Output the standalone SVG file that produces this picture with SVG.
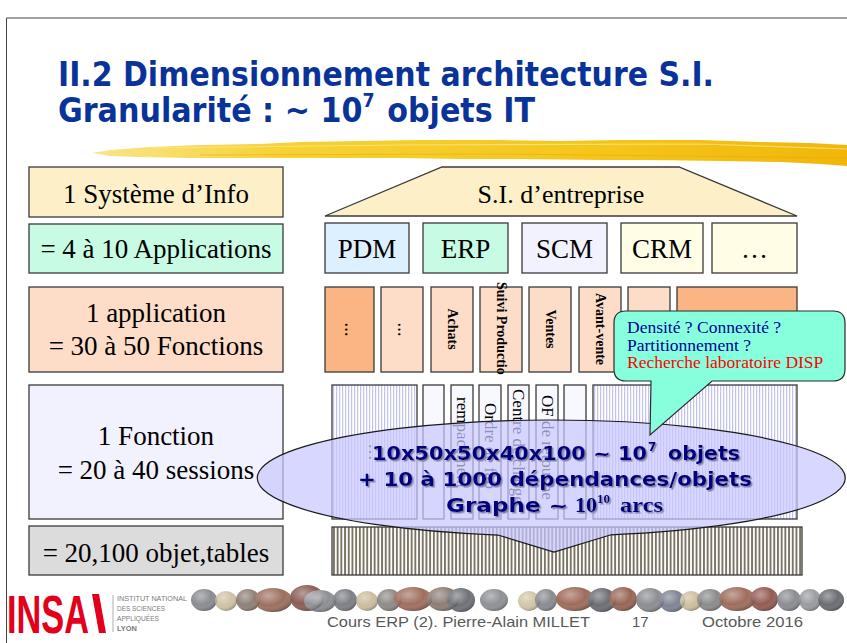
<svg xmlns="http://www.w3.org/2000/svg" width="847" height="643" viewBox="0 0 847 643">
  <style>
    .box { stroke: #3a3a3a; stroke-width: 1.3; }
    .serif { font-family: "Liberation Serif", "Times New Roman", serif; fill: #000; }
    .lbl { font-size: 27px; text-anchor: middle; }
    .vb { font-family: "Liberation Serif", "Times New Roman", serif; font-weight: bold; font-size: 14px; }
    .vs { font-family: "Liberation Serif", "Times New Roman", serif; font-size: 17px; }
    .title { font-family: "DejaVu Sans", Verdana, sans-serif; font-weight: bold; font-size: 33px; fill: #0a3399; }
    .big { font-family: "DejaVu Sans", Verdana, sans-serif; font-weight: bold; font-size: 20px; fill: #000080; }
    .tb { font-family: "Liberation Serif", "Times New Roman", serif; font-weight: bold; fill: #000080; }
    .foot { font-family: "Liberation Sans", Arial, sans-serif; font-size: 15px; fill: #595959; }
    .tiny { font-family: "Liberation Sans", Arial, sans-serif; font-size: 6.8px; fill: #7a7a7a; }
  </style>
  <defs>
    <pattern id="lav" width="3" height="10" patternUnits="userSpaceOnUse">
      <rect width="3" height="10" fill="#ffffff"/>
      <rect width="1.2" height="10" fill="#c2c2ee"/>
    </pattern>
    <pattern id="grain" width="3.7" height="10" patternUnits="userSpaceOnUse">
      <rect width="3.7" height="10" fill="#ffffff"/>
      <rect width="1.9" height="10" fill="#7b7363"/>
    </pattern>
    <linearGradient id="brush" x1="0" y1="0" x2="1" y2="0">
      <stop offset="0" stop-color="#f9e58a"/>
      <stop offset="0.25" stop-color="#f6d235"/>
      <stop offset="0.7" stop-color="#f4c51a"/>
      <stop offset="1" stop-color="#f1b60a"/>
    </linearGradient>
    <radialGradient id="shade" cx="0.38" cy="0.32" r="0.75">
      <stop offset="0" stop-color="#ffffff" stop-opacity="0.4"/>
      <stop offset="0.55" stop-color="#ffffff" stop-opacity="0"/>
      <stop offset="1" stop-color="#000000" stop-opacity="0.4"/>
    </radialGradient>
    <filter id="textShadow" x="-5%" y="-20%" width="110%" height="140%">
      <feDropShadow dx="1.5" dy="1.5" stdDeviation="0" flood-color="#8080a0" flood-opacity="1"/>
    </filter>
  </defs>

  <rect width="847" height="643" fill="#ffffff"/>
  <!-- slide frame -->
  <path d="M6.5,643 V18 H847" fill="none" stroke="#444" stroke-width="1"/>

  <!-- heading -->
  <g id="title">
    <text class="title" x="58" y="86" textLength="656" lengthAdjust="spacingAndGlyphs">II.2 Dimensionnement architecture S.I.</text>
    <text class="title" x="58" y="122" textLength="477" lengthAdjust="spacingAndGlyphs">Granularité : ~ 10<tspan dy="-15" style="font-size:19px">7</tspan><tspan dy="15" dx="14">objets IT</tspan></text>
  </g>

  <!-- yellow brush stroke -->
  <g id="brush-stroke">
    <path d="M92,153 L110,150 L150,147 L200,145 L260,144 L300,142 L360,141 L420,140 L500,140 L560,141 L620,140 L700,140 L760,142 L810,143 L847,145 L847,166 L820,164 L780,162 L720,161 L650,160 L600,160 L520,159 L460,159 L400,158 L320,158 L250,158 L190,158 L140,157 L110,156 Z" fill="url(#brush)"/>
    <path d="M150,148 L400,145 L700,144 L847,149" fill="none" stroke="#fbe894" stroke-width="1.2" opacity="0.7"/>
    <path d="M200,155 L500,154 L847,158" fill="none" stroke="#e8a800" stroke-width="1" opacity="0.5"/>
  </g>

  <!-- left column: sizing levels -->
  <g id="level-si">
    <rect class="box" x="29" y="167" width="254" height="50" fill="#fdf0c8"/>
    <text class="serif lbl" x="156" y="203">1 Système d’Info</text>
  </g>
  <g id="level-apps">
    <rect class="box" x="29" y="224" width="254" height="49" fill="#c8fbe4"/>
    <text class="serif lbl" x="156" y="258">= 4 à 10 Applications</text>
  </g>
  <g id="level-application">
    <rect class="box" x="29" y="287" width="254" height="85" fill="#fddcc8"/>
    <text class="serif lbl" x="156" y="322">1 application</text>
    <text class="serif lbl" x="156" y="355">= 30 à 50 Fonctions</text>
  </g>
  <g id="level-function">
    <rect class="box" x="29" y="385" width="254" height="134" fill="#f2f2ff"/>
    <text class="serif lbl" x="156" y="445">1 Fonction</text>
    <text class="serif lbl" x="156" y="479">= 20 à 40 sessions</text>
  </g>
  <g id="level-objects">
    <rect class="box" x="29" y="526" width="254" height="49" fill="#dcdcdc"/>
    <text class="serif lbl" x="156" y="562">= 20,100 objet,tables</text>
  </g>

  <!-- right column: enterprise IS -->
  <g id="si-entreprise">
    <polygon class="box" points="325,216 442,167 679,167 797,216" fill="#fdf0c8"/>
    <text class="serif" x="561" y="203" font-size="26" text-anchor="middle">S.I. d’entreprise</text>
  </g>
  <g id="app-pdm">
    <rect class="box" x="325" y="223" width="84" height="50" fill="#ddf0ff"/>
    <text class="serif lbl" x="367" y="258">PDM</text>
  </g>
  <g id="app-erp">
    <rect class="box" x="423" y="223" width="85" height="50" fill="#c8fbe4"/>
    <text class="serif lbl" x="465.5" y="258">ERP</text>
  </g>
  <g id="app-scm">
    <rect class="box" x="522" y="223" width="85" height="50" fill="#f2f2ff"/>
    <text class="serif lbl" x="564.5" y="258">SCM</text>
  </g>
  <g id="app-crm">
    <rect class="box" x="621" y="223" width="82" height="50" fill="#fffde6"/>
    <text class="serif lbl" x="662" y="258">CRM</text>
  </g>
  <g id="app-more">
    <rect class="box" x="712" y="223" width="85" height="50" fill="#fffde6"/>
    <text class="serif lbl" x="754.5" y="258">…</text>
  </g>

  <!-- functions of one application -->
  <g id="fn-1">
    <rect class="box" x="325" y="287" width="49" height="85" fill="#fbb584"/>
    <text class="vb" transform="translate(349.5,329.5) rotate(90)" text-anchor="middle" dominant-baseline="central">…</text>
  </g>
  <g id="fn-2">
    <rect class="box" x="381" y="287" width="42" height="85" fill="#fddcc8"/>
    <text class="vb" transform="translate(402,329.5) rotate(90)" text-anchor="middle" dominant-baseline="central">…</text>
  </g>
  <g id="fn-achats">
    <rect class="box" x="431" y="287" width="42" height="85" fill="#fddcc8"/>
    <text class="vb" transform="translate(452,329) rotate(90)" text-anchor="middle" dominant-baseline="central">Achats</text>
  </g>
  <g id="fn-production">
    <rect class="box" x="480" y="287" width="42" height="85" fill="#fddcc8"/>
    <text class="vb" transform="translate(501,282) rotate(90)" dominant-baseline="central">Suivi Productio</text>
  </g>
  <g id="fn-ventes">
    <rect class="box" x="529" y="287" width="42" height="85" fill="#fddcc8"/>
    <text class="vb" transform="translate(550,329) rotate(90)" text-anchor="middle" dominant-baseline="central">Ventes</text>
  </g>
  <g id="fn-avant-vente">
    <rect class="box" x="579" y="287" width="42" height="85" fill="#fddcc8"/>
    <text class="vb" transform="translate(600,293) rotate(90)" dominant-baseline="central">Avant-vente</text>
  </g>
  <g id="fn-7">
    <rect class="box" x="628" y="287" width="42" height="85" fill="#fddcc8"/>
  </g>
  <g id="fn-8">
    <rect class="box" x="677" y="287" width="120" height="85" fill="#fbb584"/>
  </g>

  <!-- sessions of one function -->
  <g id="ses-1">
    <rect class="box" x="332" y="385" width="85" height="134" fill="url(#lav)"/>
    <text class="vs" transform="translate(374.5,452) rotate(90)" text-anchor="middle" dominant-baseline="central">…</text>
  </g>
  <g id="ses-2">
    <rect class="box" x="423" y="385" width="21" height="134" fill="#f8f8ff"/>
  </g>
  <g id="ses-3">
    <rect class="box" x="451" y="385" width="22" height="134" fill="#f8f8ff"/>
    <text class="vs" transform="translate(462,397) rotate(90)" dominant-baseline="central">rempacement</text>
  </g>
  <g id="ses-4">
    <rect class="box" x="479" y="385" width="22" height="134" fill="#f8f8ff"/>
    <text class="vs" transform="translate(490,403) rotate(90)" dominant-baseline="central">Ordre de fab</text>
  </g>
  <g id="ses-5">
    <rect class="box" x="508" y="385" width="21" height="134" fill="#f8f8ff"/>
    <text class="vs" transform="translate(518.5,389) rotate(90)" dominant-baseline="central">Centre de charge</text>
  </g>
  <g id="ses-6">
    <rect class="box" x="536" y="385" width="22" height="134" fill="#f8f8ff"/>
    <text class="vs" transform="translate(547,395) rotate(90)" dominant-baseline="central">OF de retouche</text>
  </g>
  <g id="ses-7">
    <rect class="box" x="564" y="385" width="22" height="134" fill="#f8f8ff"/>
  </g>
  <g id="ses-8">
    <rect class="box" x="593" y="385" width="204" height="134" fill="url(#lav)"/>
  </g>

  <!-- objects / tables -->
  <g id="objects">
    <rect class="box" x="332" y="527" width="470" height="48" fill="url(#grain)"/>
  </g>

  <!-- size estimate callout -->
  <g id="estimate">
    <path d="M498,535.05 A294,58 0 1 1 611,534.8 L554,552 Z" fill="#c8c8ff" fill-opacity="0.72" stroke="#1a1a1a" stroke-width="1.2"/>
    <g filter="url(#textShadow)">
      <text class="big" x="372" y="460" textLength="275" lengthAdjust="spacingAndGlyphs">10x50x50x40x100 ~ 10</text>
      <text class="big" x="648" y="451" style="font-size:12px">7</text>
      <text class="big" x="668" y="460" textLength="72" lengthAdjust="spacingAndGlyphs">objets</text>
      <text class="big" x="358" y="486" textLength="394" lengthAdjust="spacingAndGlyphs">+ 10 à 1000 dépendances/objets</text>
      <text class="big" x="446" y="512" textLength="122" lengthAdjust="spacingAndGlyphs">Graphe ~</text>
      <text class="tb" x="575" y="512" font-size="22">10</text>
      <text class="tb" x="597" y="503" font-size="13">10</text>
      <text class="tb" x="620" y="512" font-size="22" textLength="43" lengthAdjust="spacingAndGlyphs">arcs</text>
    </g>
  </g>

  <!-- research questions callout -->
  <g id="questions">
    <path d="M626,311 H833 Q845,311 845,323 V369 Q845,381 833,381 H712 L650,435 L651,381 H626 Q614,381 614,369 V323 Q614,311 626,311 Z" fill="#88ffdc" stroke="#2a2a2a" stroke-width="1.2"/>
    <text class="serif" font-size="17.5" x="627" y="333" style="fill:#000099">Densité ? Connexité ?</text>
    <text class="serif" font-size="17.5" x="627" y="351" style="fill:#000099">Partitionnement ?</text>
    <text class="serif" font-size="17.5" x="627" y="368" style="fill:#ff0000">Recherche laboratoire DISP</text>
  </g>

  <!-- footer: logo -->
  <g id="logo">
    <text x="7" y="633" font-family="'Liberation Sans', Arial, sans-serif" font-weight="bold" font-size="54" fill="#e3001b" textLength="82" lengthAdjust="spacingAndGlyphs">INSA</text>
    <polygon points="92,594 99,594 106,633 99,633" fill="#e3001b"/>
    <line x1="113" y1="595" x2="113" y2="632" stroke="#999" stroke-width="0.8"/>
    <text class="tiny" x="117" y="601" textLength="70" lengthAdjust="spacingAndGlyphs">INSTITUT NATIONAL</text>
    <text class="tiny" x="117" y="611" textLength="48" lengthAdjust="spacingAndGlyphs">DES SCIENCES</text>
    <text class="tiny" x="117" y="621" textLength="42" lengthAdjust="spacingAndGlyphs">APPLIQUÉES</text>
    <text class="tiny" x="117" y="631" font-weight="bold" fill="#555" textLength="20" lengthAdjust="spacingAndGlyphs">LYON</text>
  </g>

  <!-- footer: pebble band -->
  <g id="pebbles">
    <ellipse cx="204" cy="600" rx="13" ry="11" fill="#8a8c90"/>
    <ellipse cx="226" cy="601" rx="11" ry="10" fill="#cfc2a4"/>
    <ellipse cx="248" cy="600" rx="12" ry="11" fill="#8d8178"/>
    <ellipse cx="273" cy="600" rx="19" ry="12" fill="#9c6f5e"/>
    <ellipse cx="307" cy="598" rx="17" ry="13" fill="#8a5d55"/>
    <ellipse cx="320" cy="601" rx="16" ry="11" fill="#8e8f94"/>
    <ellipse cx="345" cy="600" rx="12" ry="11" fill="#7d7f86"/>
    <ellipse cx="367" cy="601" rx="11" ry="10" fill="#cbbd9f"/>
    <ellipse cx="389" cy="600" rx="12" ry="11" fill="#8e8a86"/>
    <ellipse cx="413" cy="599" rx="19" ry="12" fill="#a06e5d"/>
    <ellipse cx="443" cy="599" rx="16" ry="12" fill="#8d7e74"/>
    <ellipse cx="461" cy="600" rx="14" ry="12" fill="#6f7077"/>
    <ellipse cx="494" cy="600" rx="14" ry="11" fill="#8f9095"/>
    <ellipse cx="529" cy="601" rx="11" ry="10" fill="#d2c6a8"/>
    <ellipse cx="546" cy="600" rx="11" ry="11" fill="#8a8b90"/>
    <ellipse cx="575" cy="599" rx="19" ry="12" fill="#9e6b5a"/>
    <ellipse cx="602" cy="600" rx="14" ry="12" fill="#6c6d74"/>
    <ellipse cx="623" cy="599" rx="14" ry="12" fill="#976554"/>
    <ellipse cx="650" cy="600" rx="14" ry="12" fill="#8c8d92"/>
    <ellipse cx="672" cy="601" rx="13" ry="11" fill="#7e8494"/>
    <ellipse cx="691" cy="601" rx="11" ry="10" fill="#cdbf9f"/>
    <ellipse cx="710" cy="600" rx="13" ry="11" fill="#8c8b8c"/>
    <ellipse cx="737" cy="599" rx="18" ry="12" fill="#9e6d5b"/>
    <ellipse cx="764" cy="599" rx="14" ry="12" fill="#935b52"/>
    <ellipse cx="789" cy="600" rx="12" ry="11" fill="#8b8c91"/>
    <ellipse cx="810" cy="600" rx="11" ry="11" fill="#9a9b9f"/>
    <ellipse cx="831" cy="600" rx="13" ry="11" fill="#6b6c72"/>
    <g fill="url(#shade)">
      <ellipse cx="204" cy="600" rx="13" ry="11"/><ellipse cx="226" cy="601" rx="11" ry="10"/>
      <ellipse cx="248" cy="600" rx="12" ry="11"/><ellipse cx="273" cy="600" rx="19" ry="12"/>
      <ellipse cx="307" cy="598" rx="17" ry="13"/><ellipse cx="320" cy="601" rx="16" ry="11"/>
      <ellipse cx="345" cy="600" rx="12" ry="11"/><ellipse cx="367" cy="601" rx="11" ry="10"/>
      <ellipse cx="389" cy="600" rx="12" ry="11"/><ellipse cx="413" cy="599" rx="19" ry="12"/>
      <ellipse cx="443" cy="599" rx="16" ry="12"/><ellipse cx="461" cy="600" rx="14" ry="12"/>
      <ellipse cx="494" cy="600" rx="14" ry="11"/><ellipse cx="529" cy="601" rx="11" ry="10"/>
      <ellipse cx="546" cy="600" rx="11" ry="11"/><ellipse cx="575" cy="599" rx="19" ry="12"/>
      <ellipse cx="602" cy="600" rx="14" ry="12"/><ellipse cx="623" cy="599" rx="14" ry="12"/>
      <ellipse cx="650" cy="600" rx="14" ry="12"/><ellipse cx="672" cy="601" rx="13" ry="11"/>
      <ellipse cx="691" cy="601" rx="11" ry="10"/><ellipse cx="710" cy="600" rx="13" ry="11"/>
      <ellipse cx="737" cy="599" rx="18" ry="12"/><ellipse cx="764" cy="599" rx="14" ry="12"/>
      <ellipse cx="789" cy="600" rx="12" ry="11"/><ellipse cx="810" cy="600" rx="11" ry="11"/>
      <ellipse cx="831" cy="600" rx="13" ry="11"/>
    </g>
  </g>

  <!-- footer: course line -->
  <g id="footer">
    <text class="foot" x="327" y="627" textLength="263" lengthAdjust="spacingAndGlyphs">Cours ERP (2). Pierre-Alain MILLET</text>
    <text class="foot" x="632" y="627">17</text>
    <text class="foot" x="702" y="627" textLength="101" lengthAdjust="spacingAndGlyphs">Octobre 2016</text>
  </g>
</svg>
